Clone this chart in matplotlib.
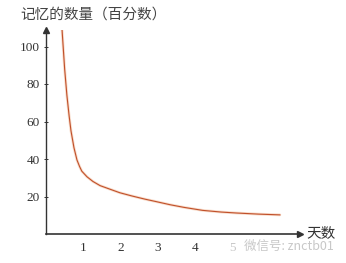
import matplotlib
matplotlib.use("Agg")
import matplotlib.pyplot as plt
import numpy as np

days = [0.43, 0.50, 0.56, 0.62, 0.67, 0.75, 0.83, 0.90, 0.96, 1.10, 1.26, 1.45, 1.70, 1.98, 2.30, 2.65, 2.97, 3.33, 3.70, 4.20, 4.70, 5.10, 5.70, 6.27]
memory = [109, 88, 74, 63, 55, 46, 39.5, 36, 33.5, 30.5, 28, 25.8, 24, 22, 20.3, 18.6, 17.2, 15.6, 14.2, 12.6, 11.7, 11.2, 10.6, 10.2]
yticks = [20, 40, 60, 80, 100]
xticks = [1, 2, 3, 4, 5]
title = "记忆的数量（百分数）"
xlabel = "天数"
watermark = "微信号: znctb01"

serif = ["Liberation Serif", "DejaVu Serif"]
cjk = ["Noto Sans CJK SC", "DejaVu Sans"]

fig = plt.figure(figsize=(3.46, 2.63), dpi=100)
ax = fig.add_axes([46/346, 1-234/263, (300-46)/346, (234-30)/263])
ax.set_xlim(0, (300-46)/37.3)
ax.set_ylim(0, 204/1.875)

ax.plot(days, memory, color="#f8dccb", lw=2.0, solid_capstyle="round", solid_joinstyle="round")
ax.plot(days, memory, color="#c0502a", lw=0.8, solid_joinstyle="round")

for s in ["top", "right"]:
    ax.spines[s].set_visible(False)
ax.spines["left"].set_color("#333333")
ax.spines["left"].set_linewidth(1.0)
ax.spines["bottom"].set_color("#333333")
ax.spines["bottom"].set_linewidth(1.2)
ax.spines["bottom"].set_linestyle((0, (1.5, 1)))

ax.plot([0], [1], marker="^", color="#333333", ms=4, transform=ax.transAxes, clip_on=False)
ax.plot([1], [0], marker=">", color="#333333", ms=4, transform=ax.transAxes, clip_on=False)

ax.set_yticks(yticks)
ax.set_yticklabels([str(v) for v in yticks], fontfamily=serif, fontsize=9.5, color="#333333")
ax.set_xticks(xticks)
ax.set_xticklabels([str(v) for v in xticks], fontfamily=serif, fontsize=9.5, color="#333333")
ax.get_xticklabels()[-1].set_color("#c8c8c8")
ax.tick_params(axis="y", direction="inout", length=3, width=0.7, colors="#333333", pad=3)
ax.tick_params(axis="x", direction="inout", length=0, width=0.7, pad=6)

fig.text(20/346, 1-15/263, title, fontfamily=cjk, fontsize=10.5, color="#444444", va="center", ha="left")
fig.text(306/346, 1-234/263, xlabel, fontfamily=cjk, fontsize=10.5, color="#333333", va="center", ha="left")
fig.text(244/346, 1-246/263, watermark, fontfamily=cjk, fontsize=9, color="#c8c8c8", va="center", ha="left")

fig.savefig("out.png", dpi=100, facecolor="white")
